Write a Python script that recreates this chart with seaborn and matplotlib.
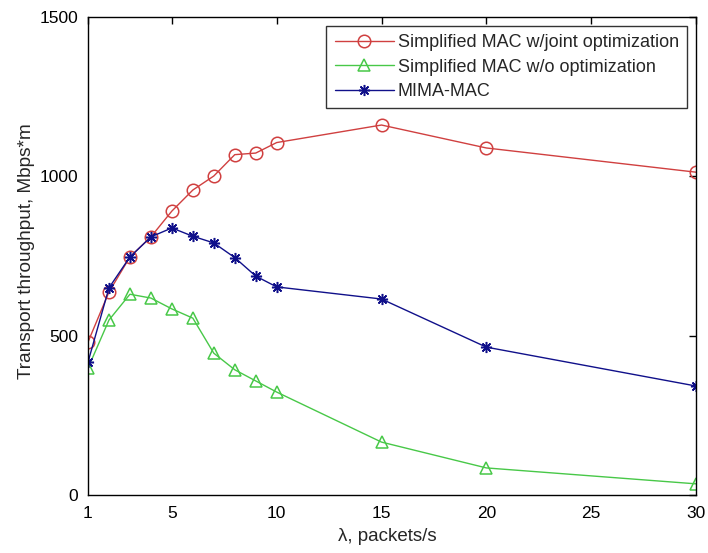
import matplotlib
matplotlib.use("Agg")
import matplotlib.pyplot as plt
import seaborn as sns
import pandas as pd

lam = [1, 2, 3, 4, 5, 6, 7, 8, 9, 10, 15, 20, 30]
joint_opt = [480, 637, 747, 810, 891, 957, 1001, 1068, 1073, 1106, 1161, 1089, 1013]
no_opt = [398, 549, 630, 618, 584, 555, 445, 393, 358, 323, 166, 85, 35]
mima = [417, 650, 747, 810, 838, 812, 791, 745, 687, 653, 615, 464, 342]

labels = ["Simplified MAC w/joint optimization",
          "Simplified MAC w/o optimization",
          "MIMA-MAC"]
xticks = [1, 5, 10, 15, 20, 25, 30]
yticks = [0, 500, 1000, 1500]

sns.set_style("white")
plt.rcParams['font.family'] = ['Liberation Sans', 'DejaVu Sans']

fig = plt.figure(figsize=(7.08, 5.53), dpi=100)
ax = fig.add_axes([88/708, 1-495/553, (696-88)/708, (495-17)/553])

styles = [
    (joint_opt, "#d04040", "o", 9),
    (no_opt, "#48c848", "^", 9),
    (mima, "#10108a", (8, 2, 0), 8),
]
for (vals, col, mk, ms), lab in zip(styles, labels):
    df = pd.DataFrame({"x": lam, "y": vals})
    sns.lineplot(data=df, x="x", y="y", ax=ax, color=col, marker=mk,
                 markersize=ms, markerfacecolor="none",
                 markeredgecolor=col, markeredgewidth=1.1, linewidth=1.0,
                 label=lab)

ax.set_xlim(1, 30)
ax.set_ylim(0, 1500)
ax.set_xticks(xticks)
ax.set_yticks(yticks)
ax.tick_params(direction="in", top=True, right=True, length=5, width=1.0,
               labelsize=12.5, colors="black", pad=8)
ax.tick_params(axis="y", pad=7)
for s in ax.spines.values():
    s.set_visible(True)
    s.set_color("black")
    s.set_linewidth(1.0)
ax.set_xlabel("λ, packets/s", fontsize=13.5)
ax.set_ylabel("Transport throughput, Mbps*m", fontsize=13.7)
ax.xaxis.set_label_coords(0.492, -0.07)
ax.yaxis.set_label_coords(-0.087, 0.51)

leg = ax.legend(loc="upper right", fontsize=13, frameon=True, fancybox=False,
                edgecolor="black", borderaxespad=0.5, handlelength=3.3,
                handletextpad=0.2, labelspacing=0.42, borderpad=0.45)
leg.get_frame().set_linewidth(1.0)

fig.savefig("out.png", dpi=100)
